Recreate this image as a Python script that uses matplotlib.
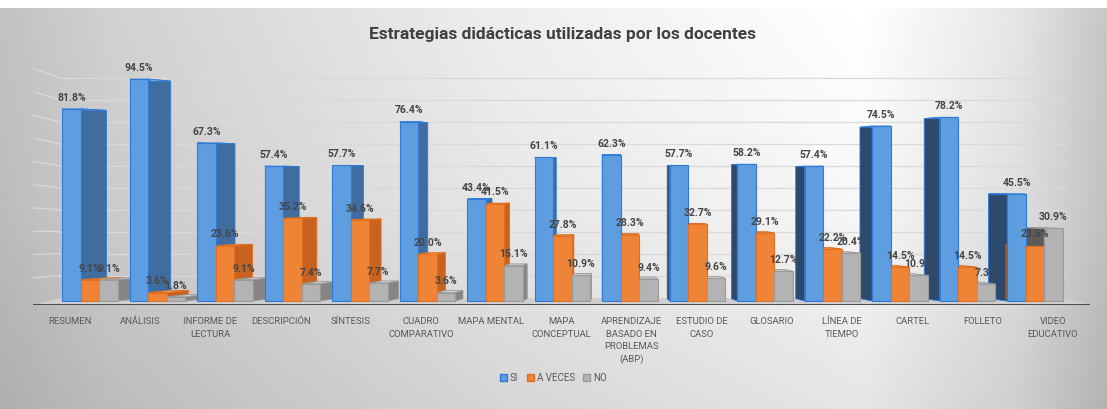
import matplotlib.pyplot as plt
import numpy as np
from matplotlib.patches import Polygon, Patch

# data
categorias = ["RESUMEN", "ANÁLISIS", "INFORME DE\nLECTURA", "DESCRIPCIÓN", "SÍNTESIS",
              "CUADRO\nCOMPARATIVO", "MAPA MENTAL", "MAPA\nCONCEPTUAL",
              "APRENDIZAJE\nBASADO EN\nPROBLEMAS\n(ABP)", "ESTUDIO DE\nCASO", "GLOSARIO",
              "LÍNEA DE\nTIEMPO", "CARTEL", "FOLLETO", "VIDEO\nEDUCATIVO"]
si = [81.8, 94.5, 67.3, 57.4, 57.7, 76.4, 43.4, 61.1, 62.3, 57.7, 58.2, 57.4, 74.5, 78.2, 45.5]
a_veces = [9.1, 3.6, 23.6, 35.2, 34.6, 20.0, 41.5, 27.8, 28.3, 32.7, 29.1, 22.2, 14.5, 14.5, 23.6]
no = [9.1, 1.8, 9.1, 7.4, 7.7, 3.6, 15.1, 10.9, 9.4, 9.6, 12.7, 20.4, 10.9, 7.3, 30.9]
series = ["SI", "A VECES", "NO"]

fuente = ['Roboto', 'DejaVu Sans']

# front, right side, left side (dark), top, edge
colores = [("#5d9de0", "#3f6d9f", "#2d4a6c", "#8dbbea", "#2f7ad8"),
           ("#f08436", "#c8621f", "#6b4030", "#f5a15f", "#e0701f"),
           ("#b3b3b3", "#858585", "#5e5a56", "#cfcfcf", "#9a9a9a")]

fig = plt.figure(figsize=(11.07, 4.09), dpi=100)

# background gradient
bg = fig.add_axes([0, 0, 1, 401 / 409])
bg.axis('off')
xs = np.linspace(0, 1, 400)
ys = np.linspace(0, 1, 150)
perfil = np.interp(xs, [0, 0.1, 0.45, 0.78, 0.92, 1.0], [0.76, 0.82, 0.93, 1.0, 0.9, 0.78])
vert = np.interp(ys, [0, 0.5, 1], [1.0, 0.97, 0.9])
img = np.clip(np.outer(vert, perfil), 0, 1)
bg.imshow(img, cmap='gray', vmin=0, vmax=1, aspect='auto', extent=[0, 1, 0, 1], origin='upper')
bg.set_xlim(0, 1)
bg.set_ylim(0, 1)

ax = fig.add_axes([33 / 1107, 104 / 409, 1057 / 1107, 245 / 409])
ax.patch.set_alpha(0)
for s in ax.spines.values():
    s.set_visible(False)
ax.set_xlim(-0.844, 14.815)
ax.set_ylim(-1.7, 102.6)
ax.set_yticks([])

x = np.arange(len(categorias))
w = 0.274
vx = 7.8
sx = 0.952


def atras(px, py):
    return (vx + (px - vx) * sx, py * 0.98 + 1.0)


# back wall gridlines + side wall segments
for k in range(1, 11):
    v = k * 10
    yb = 1.5 + 0.935 * v
    ax.plot([-0.45, 14.45], [yb, yb], color="#d9d9d9", lw=0.9, zorder=1)
    ax.plot([-0.84, -0.45], [v * 0.99, yb], color="#d9d9d9", lw=0.9, zorder=1)

# floor
ax.add_patch(Polygon([(-0.84, -1.7), (14.815, -1.7), (14.45, 1.2), (-0.45, 1.2)],
                     closed=True, facecolor="#cfcfcf", edgecolor='none', zorder=1))
ax.axhline(-1.5, color="#3c3c3c", lw=2, zorder=6)

datos = [si, a_veces, no]
for j, vals in enumerate(datos):
    pos = x + (j - 1) * w
    front, lado, lado_osc, tope, borde = colores[j]
    for xi, h in zip(pos, vals):
        x0, x1 = xi - w / 2, xi + w / 2
        if x1 < vx:
            b0, b1 = atras(x1, 0), atras(x1, h)
            cara = [(x1, 0), (x1, h), b1, b0]
            c = lado
        else:
            b0, b1 = atras(x0, 0), atras(x0, h)
            cara = [(x0, 0), (x0, h), b1, b0]
            c = lado_osc
        ax.add_patch(Polygon(cara, closed=True, facecolor=c, edgecolor=borde, lw=0.6, zorder=3))
        top = [(x0, h), (x1, h), atras(x1, h), atras(x0, h)]
        ax.add_patch(Polygon(top, closed=True, facecolor=tope, edgecolor=borde, lw=0.6, zorder=3))
    bars = ax.bar(pos, vals, width=w, color=front, edgecolor=borde, linewidth=0.8, zorder=4)
    for b, h in zip(bars, vals):
        ax.text(b.get_x() + b.get_width() / 2, h + 2.6, f"{h:.1f}%", ha='center', va='bottom',
                fontsize=7.5, fontweight='bold', color="#454545", family=fuente, zorder=7)

tick_pos = [(-20 + 70.2 * i) / 67.5 for i in range(len(categorias))]
ax.set_xticks(tick_pos)
ax.set_xticklabels(categorias, fontsize=6.8, color="#595959", family=fuente, linespacing=1.45)
ax.tick_params(axis='x', length=0, pad=9)

fig.text(0.508, 0.915, "Estrategias didácticas utilizadas por los docentes", ha='center', va='center',
         fontsize=12.5, fontweight='bold', color="#404040", family=fuente)

handles = [Patch(facecolor=colores[j][0], edgecolor=colores[j][4], label=series[j]) for j in range(3)]
fig.legend(handles=handles, loc='center', bbox_to_anchor=(0.5, 0.076), ncol=3, frameon=False,
           handlelength=0.7, handleheight=0.7, handletextpad=0.3, columnspacing=0.9,
           prop={'family': fuente, 'size': 7}, labelcolor="#595959")

fig.savefig("out.png", dpi=100)
